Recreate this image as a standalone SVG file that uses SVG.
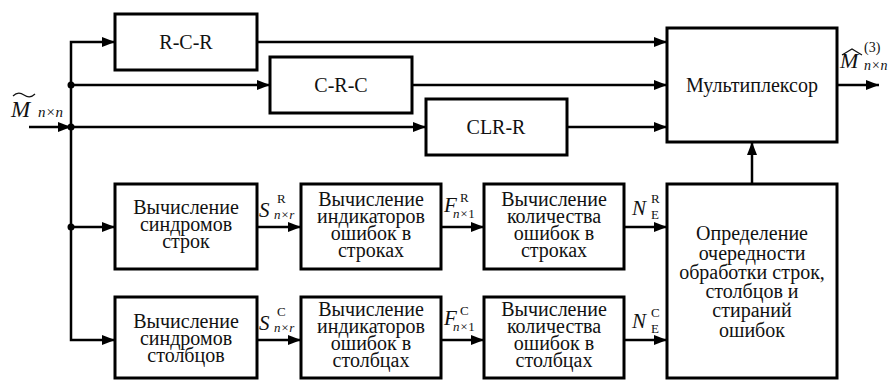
<svg xmlns="http://www.w3.org/2000/svg" width="890" height="381" viewBox="0 0 890 381">
<style>
.box{fill:#fff;stroke:#000;stroke-width:3}
.ln{fill:none;stroke:#000;stroke-width:2.5}
.t{font-size:20px;fill:#111;text-anchor:middle}
.m{font-style:italic;fill:#111}
.up{font-style:normal}
</style>
<defs>
<marker id="ah" markerUnits="userSpaceOnUse" markerWidth="14" markerHeight="10" refX="13" refY="5" orient="auto">
<path d="M0,0 L13,5 L0,10 z" fill="#000"/>
</marker>
</defs>
<rect width="890" height="381" fill="#fff"/>

<g id="connectors">
<path class="ln" d="M29,127 H71" marker-end="url(#ah)"/>
<path class="ln" d="M71,127 V42 H115" marker-end="url(#ah)"/>
<path class="ln" d="M71,127 V340 H115" marker-end="url(#ah)"/>
<path class="ln" d="M71,85 H270" marker-end="url(#ah)"/>
<path class="ln" d="M71,127 H426" marker-end="url(#ah)"/>
<path class="ln" d="M71,227 H115" marker-end="url(#ah)"/>
<path class="ln" d="M257,42 H667" marker-end="url(#ah)"/>
<path class="ln" d="M412,85 H667" marker-end="url(#ah)"/>
<path class="ln" d="M567,127 H667" marker-end="url(#ah)"/>
<path class="ln" d="M837,85 H879" marker-end="url(#ah)"/>
<path class="ln" d="M752,184 V142" marker-end="url(#ah)"/>
<path class="ln" d="M257,227 H301" marker-end="url(#ah)"/>
<path class="ln" d="M441,227 H484" marker-end="url(#ah)"/>
<path class="ln" d="M624,227 H667" marker-end="url(#ah)"/>
<path class="ln" d="M257,340 H301" marker-end="url(#ah)"/>
<path class="ln" d="M441,340 H484" marker-end="url(#ah)"/>
<path class="ln" d="M624,340 H667" marker-end="url(#ah)"/>
<circle cx="71" cy="85" r="3.5" fill="#000"/>
<circle cx="71" cy="127" r="3.5" fill="#000"/>
<circle cx="71" cy="227" r="3.5" fill="#000"/>
</g>

<g font-family="Liberation Serif, Times New Roman, serif">
<g id="labels">
<path d="M13,96 Q18,91 24,95 T35,94" fill="none" stroke="#111" stroke-width="1.2"/>
<text class="m" x="11" y="117" font-size="23">M<tspan x="38" font-size="15">n×n</tspan></text>

<path d="M842,55 L852,49 L862,55" fill="none" stroke="#111" stroke-width="1.2"/>
<text class="m" x="840" y="68" font-size="22">M<tspan class="up" x="864" y="52" font-size="14">(3)</tspan><tspan x="864" y="70" font-size="14">n×n</tspan></text>

<text class="m" x="259" y="217" font-size="21">S<tspan class="up" x="277" y="203" font-size="13">R</tspan><tspan x="274" y="219" font-size="13">n×r</tspan></text>
<text class="m" x="259" y="330" font-size="21">S<tspan class="up" x="277" y="316" font-size="13">C</tspan><tspan x="274" y="332" font-size="13">n×r</tspan></text>

<text class="m" x="444" y="212" font-size="21">F<tspan class="up" x="460" y="202" font-size="13">R</tspan><tspan x="453" y="218" font-size="13">n×<tspan class="up">1</tspan></tspan></text>
<text class="m" x="444" y="325" font-size="21">F<tspan class="up" x="460" y="315" font-size="13">C</tspan><tspan x="453" y="331" font-size="13">n×<tspan class="up">1</tspan></tspan></text>

<text class="m" x="632" y="215" font-size="21">N<tspan class="up" x="651" y="203" font-size="13">R</tspan><tspan class="up" x="651" y="219" font-size="13">E</tspan></text>
<text class="m" x="632" y="328" font-size="21">N<tspan class="up" x="651" y="317" font-size="13">C</tspan><tspan class="up" x="651" y="333" font-size="13">E</tspan></text>
</g>

<g id="rcr"><rect class="box" x="115" y="14" width="142" height="56"/><text class="t" x="186" y="49" font-size="21">R-C-R</text></g>
<g id="crc"><rect class="box" x="270" y="57" width="142" height="56"/><text class="t" x="341" y="92" font-size="21">C-R-C</text></g>
<g id="clrr"><rect class="box" x="426" y="99" width="141" height="56"/><text class="t" x="496" y="134" font-size="21">CLR-R</text></g>
<g id="mux"><rect class="box" x="667" y="28" width="170" height="114"/><text class="t" x="752" y="92" font-size="21">Мультиплексор</text></g>

<g id="syn_rows"><rect class="box" x="115" y="184" width="142" height="85"/>
<text class="t" y="214"><tspan x="186">Вычисление</tspan><tspan x="186" dy="17">синдромов</tspan><tspan x="186" dy="17">строк</tspan></text></g>
<g id="ind_rows"><rect class="box" x="301" y="184" width="140" height="85"/>
<text class="t" y="206"><tspan x="371">Вычисление</tspan><tspan x="371" dy="17">индикаторов</tspan><tspan x="371" dy="17">ошибок в</tspan><tspan x="371" dy="17">строках</tspan></text></g>
<g id="cnt_rows"><rect class="box" x="484" y="184" width="140" height="85"/>
<text class="t" y="206"><tspan x="554">Вычисление</tspan><tspan x="554" dy="17">количества</tspan><tspan x="554" dy="17">ошибок в</tspan><tspan x="554" dy="17">строках</tspan></text></g>

<g id="syn_cols"><rect class="box" x="115" y="297" width="142" height="81"/>
<text class="t" y="328"><tspan x="186">Вычисление</tspan><tspan x="186" dy="17">синдромов</tspan><tspan x="186" dy="17">столбцов</tspan></text></g>
<g id="ind_cols"><rect class="box" x="301" y="297" width="140" height="81"/>
<text class="t" y="316"><tspan x="371">Вычисление</tspan><tspan x="371" dy="17">индикаторов</tspan><tspan x="371" dy="17">ошибок в</tspan><tspan x="371" dy="17">столбцах</tspan></text></g>
<g id="cnt_cols"><rect class="box" x="484" y="297" width="140" height="81"/>
<text class="t" y="316"><tspan x="554">Вычисление</tspan><tspan x="554" dy="17">количества</tspan><tspan x="554" dy="17">ошибок в</tspan><tspan x="554" dy="17">столбцах</tspan></text></g>

<g id="order"><rect class="box" x="667" y="184" width="170" height="194"/>
<text class="t" y="240"><tspan x="752">Определение</tspan><tspan x="752" dy="20">очередности</tspan><tspan x="752" dy="19">обработки строк,</tspan><tspan x="752" dy="19">столбцов и</tspan><tspan x="752" dy="19">стираний</tspan><tspan x="752" dy="20">ошибок</tspan></text></g>
</g>
</svg>
